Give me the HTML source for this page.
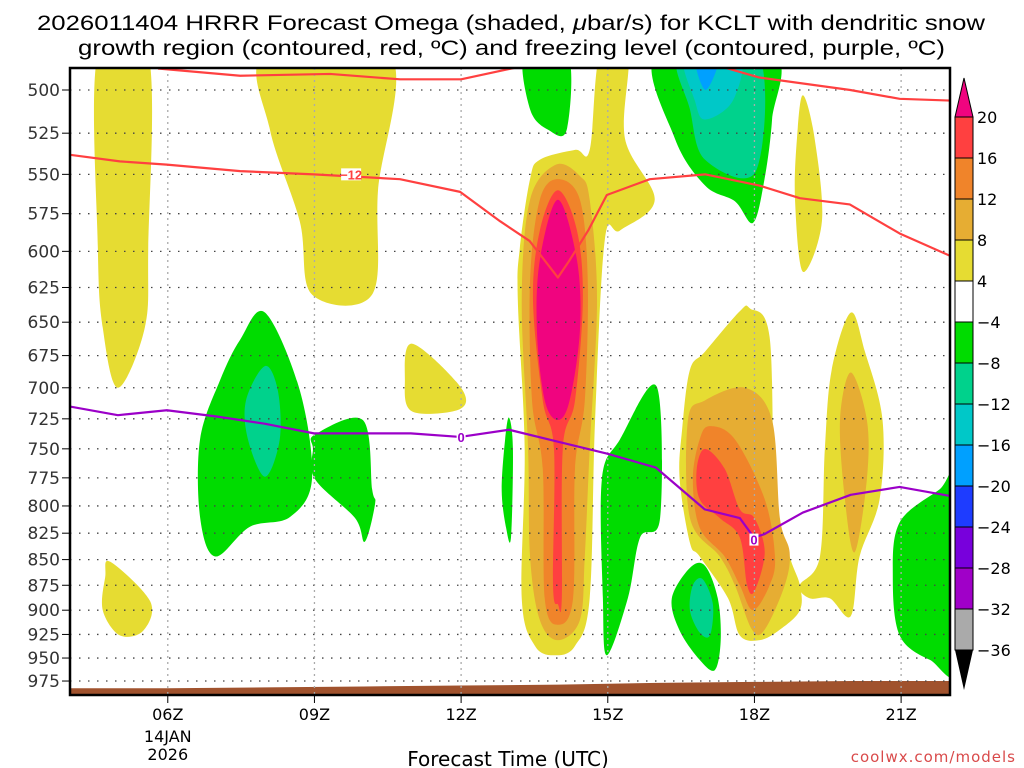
<!DOCTYPE html>
<html><head><meta charset="utf-8"><style>
html,body{margin:0;padding:0;background:#fff}
svg{display:block}
text{font-family:"Liberation Sans","DejaVu Sans",sans-serif}
</style></head><body>
<svg id="chart" width="1024" height="768" viewBox="0 0 1024 768" xmlns="http://www.w3.org/2000/svg">
<text x="37" y="30" font-size="21" textLength="948" lengthAdjust="spacingAndGlyphs">2026011404 HRRR Forecast Omega (shaded, <tspan font-style="italic">μ</tspan>bar/s) for KCLT with dendritic snow</text>
<text x="78" y="55" font-size="21" textLength="867" lengthAdjust="spacingAndGlyphs">growth region (contoured, red, ºC) and freezing level (contoured, purple, ºC)</text>
<defs><clipPath id="plotclip"><rect x="70" y="68" width="880" height="627"/></clipPath></defs>
<g id="plot" clip-path="url(#plotclip)"></g>
<g id="axes"></g>
<g id="cbar"></g>
<text x="508" y="766" font-size="20" text-anchor="middle" style="font-family:'DejaVu Sans',sans-serif" font-size="19">Forecast Time (UTC)</text>
<text x="1016" y="762" font-size="15" fill="#d94a4a" text-anchor="end" letter-spacing="1" style="font-family:'DejaVu Sans',sans-serif">coolwx.com/models</text>
</svg>
<script>
// ---- data ----
const pressureTicks=[500,525,550,575,600,625,650,675,700,725,750,775,800,825,850,875,900,925,950,975];
const timeTicks=[6,9,12,15,18,21];
const timeLabels=["06Z","09Z","12Z","15Z","18Z","21Z"];
const cbLevels=[20,16,12,8,4,-4,-8,-12,-16,-20,-24,-28,-32,-36];
const cbColors=["#ff4040","#f0842a","#e6ad33","#e6dc32","#ffffff","#00dc00","#00d28c","#00c8c8","#00a0ff","#1e3cff","#7800dc","#a000c8","#aaaaaa"];
const surfHours=[4,6,8,10,12,14,16,18,20,22];
const surfPres=[983,983,982,981,980,979,977,976,975,975];
const dgzTopHours=[5.8,7.48,9.32,10.75,12.0,13.2,14.5,15.9,17.33,18.1,19.96,20.97,22];
const dgzTopPres=[488,492,491,494,494,487,470,487,487,493,500,505,506];
const dgzBotHours=[4,5.02,5.98,7.48,8.99,10.75,11.98,12.8,13.4,13.98,14.2,14.6,14.98,15.86,16.99,18.1,18.93,19.95,20.97,22];
const dgzBotPres=[538,542,544,548,550,553,561,580,593,618,607,586,563,553,550,557,565,569,588,603];
const frzHours=[4,4.98,5.98,6.98,7.98,8.99,9.99,10.97,11.98,12.98,13.98,14.98,15.98,16.98,17.7,17.99,18.2,18.99,19.97,20.97,22];
const frzPres=[715,722,718,723,729,737,737,737,740,734,744,754,766,803,811,829,826,806,790,783,791];
const yellow1H=[4.57,5.6,5.6,5.53,4.98,4.67,4.57], yellow1P=[480,480,598,654,700,654,598];
const yellow2H=[7.99,10.54,10.3,10.18,8.95,8.7,8.09], yellow2P=[480,480,560,630,630,580,523];
const yellow3H=[4.82,5.64,5.5,5.02,4.67,4.72], yellow3P=[852,891,921,926,900,867];
const yellow4H=[11.0,11.98,11.98,11.0,10.85], yellow4P=[666,699,717,719,694];
const yellow5H=[18.99,19.23,19.38,18.99,18.83,18.87], yellow5P=[503,528,580,614,566,528];
const plumeYH=[13.61,14.33,14.63,14.84,15.41,15.35,15.96,15.25,14.94,14.74,14.63,14.33,13.92,13.51,13.24,13.3,13.16,13.2,13.41];
const plumeYP=[541,535,535,480,480,528,566,586,592,726,888,937,947,937,888,750,634,598,553];
const plumeDH=[13.94,14.43,14.63,14.78,14.63,14.53,14.43,13.98,13.61,13.41,13.37,13.24,13.41];
const plumeDP=[544,551,566,634,750,847,910,931,910,847,750,634,566];
const plumeOH=[13.98,14.43,14.59,14.53,14.33,14.29,13.98,13.71,13.67,13.45,13.41,13.61];
const plumeOP=[553,566,620,710,767,888,915,888,767,710,620,566];
const plumeRH=[13.98,14.37,14.49,14.33,14.08,14.06,13.98,13.88,13.9,13.67,13.47,13.61];
const plumeRP=[560,586,634,710,750,888,894,875,750,710,634,586];
const plumeMH=[13.98,14.37,14.43,14.22,13.98,13.71,13.55,13.61];
const plumeMP=[566,606,656,710,726,710,656,606];
const p2YH=[17.91,18.31,18.42,18.72,18.93,18.93,18.52,18.11,17.7,17.46,16.88,16.68,16.47,16.52,16.68,16.99,17.7];
const p2YP=[640,661,794,847,875,900,920,931,926,888,847,834,776,734,686,672,642];
const p2DH=[17.81,18.36,18.52,18.72,18.62,18.21,17.95,17.6,17.29,16.68,16.64,16.99];
const p2DP=[700,726,811,843,875,920,920,875,847,811,726,710];
const p2OH=[17.09,17.6,18.21,18.42,18.31,17.97,17.7,17.39,16.88,16.74,16.88];
const p2OP=[731,742,794,847,875,900,875,847,820,776,742];
const p2RH=[16.99,17.39,17.7,18.0,18.21,18.0,17.85,17.7,17.29,16.88,16.82];
const p2RP=[750,767,803,811,843,881,875,829,811,794,767];
const p3YH=[19.97,20.26,20.62,20.56,20.15,19.97,19.54,19.13,18.93,19.34,19.44,19.58];
const p3YP=[643,672,726,794,847,906,888,888,875,847,750,686];
const p3DH=[19.97,20.3,20.3,20.05,19.85,19.75];
const p3DP=[688,726,776,843,794,726];
const gTopH=[16.0,18.38,18.36,18.2,17.97,17.6,16.99,16.37], gTopP=[480,480,517,554,581,567,557,528];
const tTopH=[16.47,18.07,18.03,16.99,16.68], tTopP=[480,480,548,541,511];
const cTopH=[16.58,17.7,17.56,16.99,16.78], cTopP=[480,480,506,517,506];
const bTopH=[16.78,17.29,17.0], bTopP=[480,480,500];
const g2H=[13.3,14.18,14.16,13.78,13.41], g2P=[480,480,523,523,511];
const gLH=[7.99,8.7,8.95,8.5,7.68,6.97,6.66,6.66,7.07,7.48], gLP=[643,702,776,810,819,847,810,742,694,663];
const tLH=[7.99,8.25,8.29,7.99,7.64,7.6], tLP=[683,702,742,774,742,710];
const gMH=[9.01,9.99,10.18,10.24,10.03,9.83,9.01,8.97], gMP=[738,726,785,798,833,811,776,750];
const gThH=[12.98,13.06,13.02,12.92,12.83,12.9], gThP=[724,750,829,820,786,742];
const g15H=[16.0,16.07,15.66,15.41,14.98,14.9,14.88,15.25], g15P=[699,811,829,888,947,888,776,742];
const g17H=[16.99,17.25,17.31,17.19,16.88,16.47,16.31,16.68], g17P=[856,888,931,963,952,921,888,858];
const t17H=[16.94,17.15,17.09,16.88,16.68,16.74], t17P=[869,894,926,923,900,875];
const gRH=[22.2,22.2,21.59,20.97,20.83,20.97,21.79], gRP=[772,957,952,926,867,815,785];

// ---- axes ----
const X0=70,X1=950,Y0=68,Y1=695,H0=4,H1=22;
const xs=h=>X0+(h-H0)*(X1-X0)/(H1-H0);
const ys=p=>90+885*Math.log(p/500);
const NS="http://www.w3.org/2000/svg";
function mk(tag,attrs,parent){const e=document.createElementNS(NS,tag);for(const k in attrs)e.setAttribute(k,attrs[k]);parent.appendChild(e);return e;}
function smooth(H,P){
  const pts=H.map((h,i)=>[xs(h),ys(P[i])]);const n=pts.length;let d=`M${pts[0][0]},${pts[0][1]}`;
  for(let i=0;i<n;i++){const p0=pts[(i-1+n)%n],p1=pts[i],p2=pts[(i+1)%n],p3=pts[(i+2)%n];
    const c1=[p1[0]+(p2[0]-p0[0])/6,p1[1]+(p2[1]-p0[1])/6],c2=[p2[0]-(p3[0]-p1[0])/6,p2[1]-(p3[1]-p1[1])/6];
    d+=`C${c1[0]},${c1[1]} ${c2[0]},${c2[1]} ${p2[0]},${p2[1]}`;}
  return d+"Z";}
const plot=document.getElementById('plot');
const shapes=[
 ["yellow-region-05z",3,yellow1H,yellow1P],["yellow-region-09z",3,yellow2H,yellow2P],["yellow-region-low-05z",3,yellow3H,yellow3P],
 ["yellow-region-11z",3,yellow4H,yellow4P],["yellow-region-19z-upper",3,yellow5H,yellow5P],
 ["plume-14z-4",3,plumeYH,plumeYP],["plume-14z-8",2,plumeDH,plumeDP],["plume-14z-12",1,plumeOH,plumeOP],["plume-14z-16",0,plumeRH,plumeRP],["plume-14z-20",-1,plumeMH,plumeMP],
 ["plume-17z-4",3,p2YH,p2YP],["plume-17z-8",2,p2DH,p2DP],["plume-17z-12",1,p2OH,p2OP],["plume-17z-16",0,p2RH,p2RP],
 ["plume-20z-4",3,p3YH,p3YP],["plume-20z-8",2,p3DH,p3DP],
 ["sink-17z-top-4",5,gTopH,gTopP],["sink-17z-top-8",6,tTopH,tTopP],["sink-17z-top-12",7,cTopH,cTopP],["sink-17z-top-16",8,bTopH,bTopP],
 ["sink-13z-top",5,g2H,g2P],["sink-08z",5,gLH,gLP],["sink-08z-8",6,tLH,tLP],["sink-10z",5,gMH,gMP],["sink-13z-thin",5,gThH,gThP],
 ["sink-15z",5,g15H,g15P],["sink-17z-low",5,g17H,g17P],["sink-17z-low-8",6,t17H,t17P],["sink-22z",5,gRH,gRP]
];
shapes.forEach(s=>{const col=s[1]<0?"#f0047f":cbColors[s[1]];
  const e=mk('path',{d:smooth(s[2],s[3]),fill:col},plot);
  
  });
let td=`M${xs(surfHours[0])},${Y1+5}`;surfHours.forEach((h,i)=>td+=`L${xs(h)},${ys(surfPres[i])}`);td+=`L${xs(surfHours[surfHours.length-1])},${Y1+5}Z`;
const terr=mk('path',{d:td,fill:"#a0522d"},plot);


pressureTicks.forEach(p=>{const g=mk('line',{x1:X0,x2:X1,y1:ys(p),y2:ys(p),stroke:"#444","stroke-width":1.3,"stroke-dasharray":"1.5 7.5"},plot);
  
  });
timeTicks.forEach(h=>{const g=mk('line',{x1:xs(h),x2:xs(h),y1:Y0,y2:Y1,stroke:"#aaa","stroke-width":1.3,"stroke-dasharray":"2 4"},plot);
  
  });
function line(H,P,col,name){let d="";H.forEach((h,i)=>d+=(i?"L":"M")+xs(h)+","+ys(P[i]));
  const e=mk('path',{d:d,fill:"none",stroke:col,"stroke-width":2.2,"stroke-linejoin":"round"},plot);
  
  }
line(dgzTopHours,dgzTopPres,"#ff4040","dgz-minus18-line");
line(dgzBotHours,dgzBotPres,"#ff4040","dgz-minus12-line");
line(frzHours,frzPres,"#9b00c8","freezing-level-line");
function lab(h,p,t,col,name,w){const r=mk('rect',{x:xs(h)-w/2,y:ys(p)-6,width:w,height:12,fill:"#fff"},plot);
  const e=mk('text',{x:xs(h),y:ys(p)+5,"font-size":13,"font-weight":"bold",fill:col,"text-anchor":"middle"},plot);e.textContent=t;
  
  }
lab(9.75,550,"−12","#ff4040","dgz-label",20);
lab(12.0,740,"0","#9b00c8","freezing-label-12z",9);
lab(17.99,831,"0","#9b00c8","freezing-label-18z",9);
const ax=document.getElementById('axes');
mk('rect',{x:X0,y:Y0,width:X1-X0,height:Y1-Y0,fill:"none",stroke:"#000","stroke-width":2.5},ax);
pressureTicks.forEach(p=>{mk('line',{x1:X0-8,x2:X0,y1:ys(p),y2:ys(p),stroke:"#000","stroke-width":1},ax);
  const t=mk('text',{x:X0-10,y:ys(p)+6,"font-size":17,"text-anchor":"end",fill:"#333",style:"font-family:'DejaVu Sans',sans-serif"},ax);t.textContent=p;
  
  });
timeTicks.forEach((h,i)=>{mk('line',{x1:xs(h),x2:xs(h),y1:Y1,y2:Y1+8,stroke:"#000","stroke-width":1},ax);
  const t=mk('text',{x:xs(h),y:Y1+25,"font-size":16,"text-anchor":"middle",style:"font-family:'DejaVu Sans',sans-serif"},ax);t.textContent=timeLabels[i];
  
  });
[["14JAN",742],["2026",760]].forEach(a=>{const t=mk('text',{x:xs(6),y:a[1],"font-size":16,"text-anchor":"middle",style:"font-family:'DejaVu Sans',sans-serif"},ax);t.textContent=a[0];
  
  });
const cb=document.getElementById('cbar');const CX=955,CW=18;
const levY=cbLevels.map((v,i)=>117+i*41);
mk('polygon',{points:`${CX},117 ${CX+CW},117 ${CX+CW/2},78`,fill:"#f0047f",stroke:"#000","stroke-width":1},cb);
cbColors.forEach((c,i)=>{const r=mk('rect',{x:CX,y:levY[i],width:CW,height:41,fill:c,stroke:"#000","stroke-width":1},cb);
  
  });
mk('polygon',{points:`${CX},650 ${CX+CW},650 ${CX+CW/2},690`,fill:"#000"},cb);
cbLevels.forEach((v,i)=>{const t=mk('text',{x:CX+CW+4,y:levY[i]+6,"font-size":16,style:"font-family:'DejaVu Sans',sans-serif"},cb);t.textContent=v<0?"−"+(-v):v;
  
  });
</script>
</body></html>
